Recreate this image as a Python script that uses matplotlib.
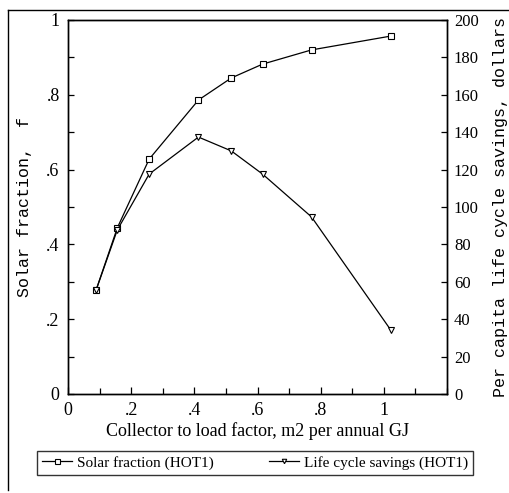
import matplotlib
matplotlib.use("Agg")
import matplotlib.pyplot as plt
from matplotlib.lines import Line2D
from matplotlib.ticker import MultipleLocator

# data
load_factor = [0.089, 0.156, 0.257, 0.413, 0.517, 0.616, 0.771, 1.022]
solar_fraction = [0.278, 0.444, 0.628, 0.786, 0.845, 0.882, 0.920, 0.957]
savings = [55.6, 87.7, 117.6, 137.4, 130.0, 117.6, 94.7, 34.2]

xticks = [0, 0.2, 0.4, 0.6, 0.8, 1.0]
xtick_labels = ["0", ".2", ".4", ".6", ".8", "1"]
yticks = [0, 0.2, 0.4, 0.6, 0.8, 1.0]
ytick_labels = ["0", ".2", ".4", ".6", ".8", "1"]
y2ticks = [0, 20, 40, 60, 80, 100, 120, 140, 160, 180, 200]

serif = "Liberation Serif"
mono = "Liberation Mono"

fig = plt.figure(figsize=(5.09, 4.93), dpi=100)
ax = fig.add_axes([68 / 509, 1 - 394 / 493, (447 - 68) / 509, (394 - 20) / 493])
ax2 = ax.twinx()

l1, = ax.plot(load_factor, solar_fraction, color="black", lw=0.9,
              marker="s", ms=4.5, mfc="white", mec="black", mew=0.8)
l2, = ax2.plot(load_factor, savings, color="black", lw=0.9,
               marker="v", ms=4, mfc="white", mec="black", mew=0.8)

ax.set_xlim(0, 1.2)
ax.set_ylim(0, 1)
ax2.set_ylim(0, 200)

ax.set_xticks(xticks)
ax.set_xticklabels(xtick_labels, fontfamily=serif, fontsize=13)
ax.xaxis.set_minor_locator(MultipleLocator(0.1))
ax.set_yticks(yticks)
ax.set_yticklabels(ytick_labels, fontfamily=serif, fontsize=13)
ax.yaxis.set_minor_locator(MultipleLocator(0.1))
ax2.set_yticks(y2ticks)
ax2.set_yticklabels([str(v) for v in y2ticks], fontfamily=serif, fontsize=12)

ax.tick_params(axis="both", which="both", direction="in", length=4, width=0.9, pad=6)
ax.tick_params(axis="x", which="major", length=5)
ax2.tick_params(axis="y", direction="in", length=4, width=0.9, pad=5)
ax.tick_params(top=False, right=False)

for a in (ax, ax2):
    for s in a.spines.values():
        s.set_linewidth(1.0)

ax.set_xlabel("Collector to load factor, m2 per annual GJ", fontfamily=serif,
              fontsize=13, labelpad=2)
ax.set_ylabel("Solar fraction,  f", fontfamily=mono, fontsize=12, labelpad=10)
ax2.set_ylabel("Per capita life cycle savings, dollars", fontfamily=mono,
               fontsize=12, labelpad=10)

leg = fig.legend([l1, l2], ["Solar fraction (HOT1)", "Life cycle savings (HOT1)"],
                 loc="center", bbox_to_anchor=(255 / 509, 1 - 463 / 493),
                 ncol=2, frameon=True, fancybox=False, edgecolor="black",
                 prop={"family": serif, "size": 11}, handlelength=2.0,
                 handletextpad=0.3, columnspacing=3.6, borderpad=0.35,
                 markerscale=0.8)
leg.get_frame().set_linewidth(1.0)

# outer frame lines
fig.add_artist(Line2D([8 / 509, 1], [1 - 10 / 493, 1 - 10 / 493],
                      transform=fig.transFigure, color="black", lw=1.0))
fig.add_artist(Line2D([8 / 509, 8 / 509], [1 - 10 / 493, 1 - 490 / 493],
                      transform=fig.transFigure, color="black", lw=1.0))

fig.savefig("out.png", dpi=100)
